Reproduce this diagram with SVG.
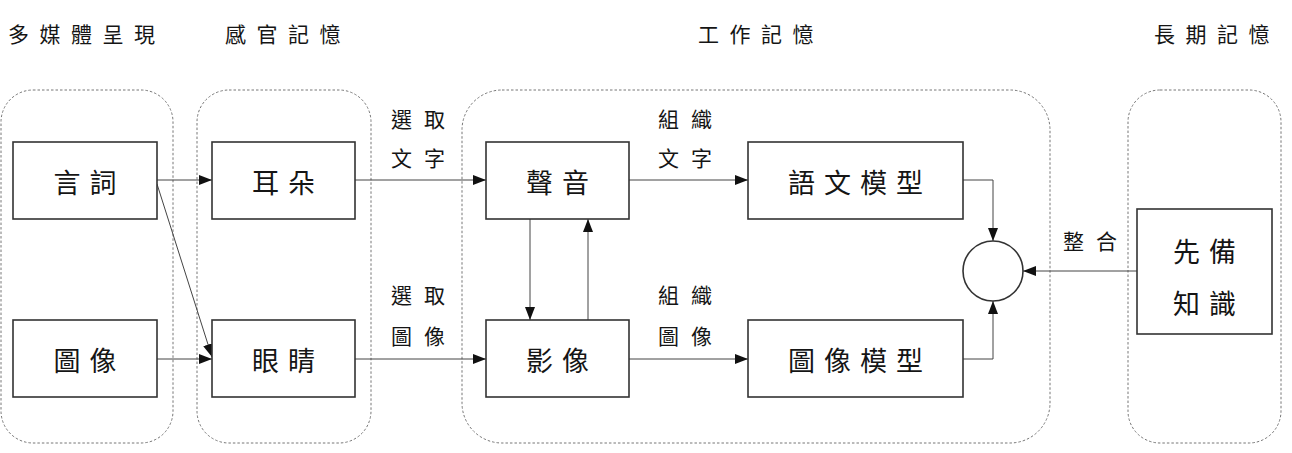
<svg xmlns="http://www.w3.org/2000/svg" width="1292" height="453" viewBox="0 0 1292 453">
<style>
.grp{fill:none;stroke:#777;stroke-width:1;stroke-dasharray:2.5,2}
.box{fill:#fff;stroke:#333;stroke-width:1.6}
.t{font-family:"Noto Sans CJK TC","Noto Sans CJK SC",sans-serif;fill:#151515;dominant-baseline:central;text-anchor:middle}
.big{font-size:27px;letter-spacing:9px}
.lbl{font-size:21px;letter-spacing:12px}
.ttl{font-size:21px;letter-spacing:10.5px;text-anchor:start}
.c{fill:none;stroke:#444;stroke-width:1}
</style>
<defs>
<marker id="ah" markerUnits="userSpaceOnUse" markerWidth="14" markerHeight="12" refX="13" refY="5" orient="auto">
<path d="M0,0 L13,5 L0,10 Z" fill="#111"/>
</marker>
</defs>
<g id="titles">
<text class="t ttl" x="8" y="33">多媒體呈現</text>
<text class="t ttl" x="225" y="33">感官記憶</text>
<text class="t ttl" x="698" y="33">工作記憶</text>
<text class="t ttl" x="1154" y="33">長期記憶</text>
</g>
<g id="group-multimedia"><rect class="grp" x="1" y="90" width="172" height="353" rx="32"/></g>
<g id="group-sensory"><rect class="grp" x="197" y="90" width="174" height="353" rx="32"/></g>
<g id="group-working"><rect class="grp" x="462" y="90" width="588" height="353" rx="40"/></g>
<g id="group-longterm"><rect class="grp" x="1128" y="90" width="153" height="353" rx="32"/></g>
<g id="connectors">
<line class="c" x1="157" y1="180" x2="212" y2="180" marker-end="url(#ah)"/>
<line class="c" x1="157" y1="359" x2="212" y2="359" marker-end="url(#ah)"/>
<line class="c" x1="157" y1="184" x2="212" y2="357" marker-end="url(#ah)"/>
<line class="c" x1="355" y1="180" x2="486" y2="180" marker-end="url(#ah)"/>
<line class="c" x1="355" y1="359" x2="486" y2="359" marker-end="url(#ah)"/>
<line class="c" x1="530" y1="219" x2="530" y2="320" marker-end="url(#ah)"/>
<line class="c" x1="588" y1="320" x2="588" y2="219" marker-end="url(#ah)"/>
<line class="c" x1="629" y1="180" x2="748" y2="180" marker-end="url(#ah)"/>
<line class="c" x1="629" y1="359" x2="748" y2="359" marker-end="url(#ah)"/>
<polyline class="c" points="963,180 993,180 993,241" marker-end="url(#ah)"/>
<polyline class="c" points="963,359 993,359 993,301" marker-end="url(#ah)"/>
<line class="c" x1="1137" y1="271" x2="1023" y2="271" marker-end="url(#ah)"/>
<text class="t lbl" x="424" y="118">選取</text>
<text class="t lbl" x="424" y="157">文字</text>
<text class="t lbl" x="424" y="294">選取</text>
<text class="t lbl" x="424" y="335">圖像</text>
<text class="t lbl" x="691" y="118">組織</text>
<text class="t lbl" x="691" y="157">文字</text>
<text class="t lbl" x="691" y="294">組織</text>
<text class="t lbl" x="691" y="335">圖像</text>
<text class="t lbl" x="1096" y="240">整合</text>
</g>
<g id="n-words"><rect class="box" x="13" y="142" width="144" height="77"/><text class="t big" x="89.5" y="181">言詞</text></g>
<g id="n-pictures"><rect class="box" x="13" y="320" width="144" height="77"/><text class="t big" x="89.5" y="359">圖像</text></g>
<g id="n-ears"><rect class="box" x="212" y="142" width="143" height="77"/><text class="t big" x="288" y="181">耳朵</text></g>
<g id="n-eyes"><rect class="box" x="212" y="320" width="143" height="77"/><text class="t big" x="288" y="359">眼睛</text></g>
<g id="n-sounds"><rect class="box" x="486" y="142" width="143" height="77"/><text class="t big" x="562" y="181">聲音</text></g>
<g id="n-images"><rect class="box" x="486" y="320" width="143" height="77"/><text class="t big" x="562" y="359">影像</text></g>
<g id="n-verbal"><rect class="box" x="748" y="142" width="215" height="77"/><text class="t big" x="860" y="181">語文模型</text></g>
<g id="n-pictorial"><rect class="box" x="748" y="320" width="215" height="77"/><text class="t big" x="860" y="359">圖像模型</text></g>
<g id="n-integrate"><circle cx="993" cy="271" r="30" fill="#fff" stroke="#333" stroke-width="1.6"/></g>
<g id="n-prior"><rect class="box" x="1137" y="209" width="135" height="125"/><text class="t big" x="1209" y="250">先備</text><text class="t big" x="1209" y="302">知識</text></g>
</svg>
